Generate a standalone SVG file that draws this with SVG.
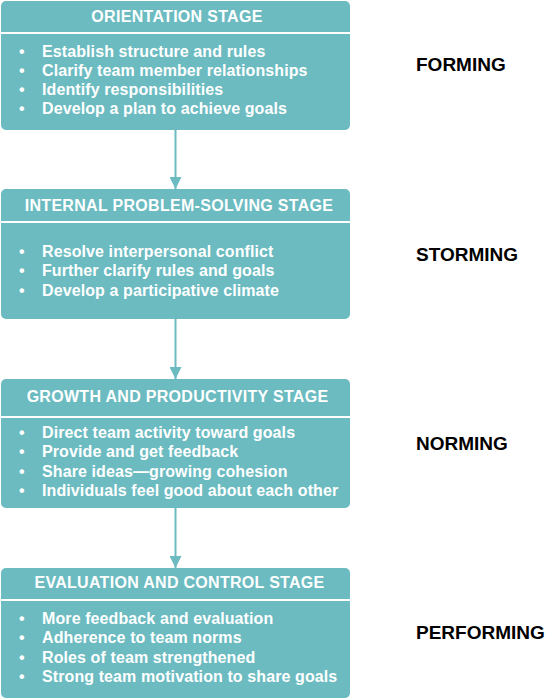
<svg xmlns="http://www.w3.org/2000/svg" width="547" height="699" viewBox="0 0 547 699">
<style>
.box{fill:#6bbbc1}
.div{stroke:#ffffff;stroke-width:2}
.hd{font-family:"Liberation Sans",Arial,sans-serif;font-weight:bold;font-size:16px;letter-spacing:0.3px;fill:#ffffff;text-anchor:middle}
.it{font-family:"Liberation Sans",Arial,sans-serif;font-weight:bold;font-size:16px;letter-spacing:0.1px;fill:#ffffff}
.lb{font-family:"Liberation Sans",Arial,sans-serif;font-weight:bold;font-size:19px;fill:#000000}
.con{stroke:#6bbbc1;stroke-width:2;fill:none}
</style>
<defs>
<marker id="ah" markerWidth="12" markerHeight="12" refX="12" refY="6" orient="auto" markerUnits="userSpaceOnUse">
<path d="M0,0 L12,6 L0,12 Z" fill="#6bbbc1"/>
</marker>
</defs>
<rect width="547" height="699" fill="#ffffff"/>
<g id="connectors">
<line class="con" x1="175.5" y1="130" x2="175.5" y2="189" marker-end="url(#ah)"/>
<line class="con" x1="175.5" y1="319" x2="175.5" y2="379" marker-end="url(#ah)"/>
<line class="con" x1="175.5" y1="508" x2="175.5" y2="568" marker-end="url(#ah)"/>
</g>
<g id="orientation">
<rect class="box" x="1" y="1" width="349" height="129" rx="5"/>
<line class="div" x1="1" y1="33" x2="350" y2="33"/>
<text class="hd" x="177" y="22">ORIENTATION STAGE</text>
<text class="it" x="19" y="57">•</text><text class="it" x="42" y="57">Establish structure and rules</text>
<text class="it" x="19" y="76">•</text><text class="it" x="42" y="76">Clarify team member relationships</text>
<text class="it" x="19" y="95">•</text><text class="it" x="42" y="95">Identify responsibilities</text>
<text class="it" x="19" y="114">•</text><text class="it" x="42" y="114">Develop a plan to achieve goals</text>
</g>
<g id="problem-solving">
<rect class="box" x="1" y="189" width="349" height="130" rx="5"/>
<line class="div" x1="1" y1="222" x2="350" y2="222"/>
<text class="hd" x="179" y="211">INTERNAL PROBLEM-SOLVING STAGE</text>
<text class="it" x="19" y="257">•</text><text class="it" x="42" y="257">Resolve interpersonal conflict</text>
<text class="it" x="19" y="276">•</text><text class="it" x="42" y="276">Further clarify rules and goals</text>
<text class="it" x="19" y="296">•</text><text class="it" x="42" y="296">Develop a participative climate</text>
</g>
<g id="growth">
<rect class="box" x="1" y="379" width="349" height="129" rx="5"/>
<line class="div" x1="1" y1="417" x2="350" y2="417"/>
<text class="hd" x="177.5" y="402">GROWTH AND PRODUCTIVITY STAGE</text>
<text class="it" x="19" y="438">•</text><text class="it" x="42" y="438">Direct team activity toward goals</text>
<text class="it" x="19" y="457">•</text><text class="it" x="42" y="457">Provide and get feedback</text>
<text class="it" x="19" y="477">•</text><text class="it" x="42" y="477">Share ideas—growing cohesion</text>
<text class="it" x="19" y="496">•</text><text class="it" x="42" y="496">Individuals feel good about each other</text>
</g>
<g id="evaluation">
<rect class="box" x="1" y="568" width="349" height="130" rx="5"/>
<line class="div" x1="1" y1="600" x2="350" y2="600"/>
<text class="hd" x="179.5" y="588">EVALUATION AND CONTROL STAGE</text>
<text class="it" x="19" y="624">•</text><text class="it" x="42" y="624">More feedback and evaluation</text>
<text class="it" x="19" y="643">•</text><text class="it" x="42" y="643">Adherence to team norms</text>
<text class="it" x="19" y="663">•</text><text class="it" x="42" y="663">Roles of team strengthened</text>
<text class="it" x="19" y="682">•</text><text class="it" x="42" y="682">Strong team motivation to share goals</text>
</g>
<g id="labels">
<text class="lb" x="416" y="71">FORMING</text>
<text class="lb" x="416" y="261">STORMING</text>
<text class="lb" x="416" y="450">NORMING</text>
<text class="lb" x="416" y="639">PERFORMING</text>
</g>
</svg>
